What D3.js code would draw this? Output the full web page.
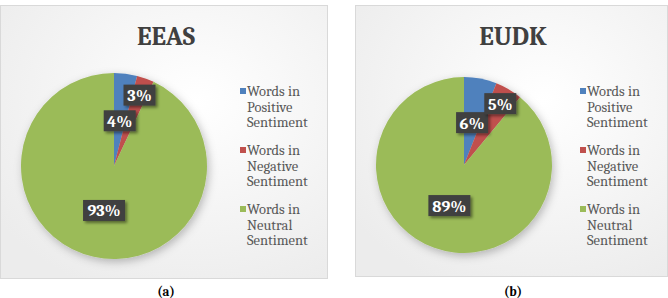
<!DOCTYPE html>
<html>
<head>
<meta charset="utf-8">
<script src="https://cdn.jsdelivr.net/npm/d3@7"></script>
<style>
  body { margin: 0; background: #fff; }
  svg { display: block; }
</style>
</head>
<body>
<script>
var width = 668, height = 298;

// data
var categories = ["Words in Positive Sentiment", "Words in Negative Sentiment", "Words in Neutral Sentiment"];
var legendLines = [["Words in", "Positive", "Sentiment"], ["Words in", "Negative", "Sentiment"], ["Words in", "Neutral", "Sentiment"]];
var eeasValues = [4, 3, 93];
var eudkValues = [6, 5, 89];
var chartTitles = ["EEAS", "EUDK"];
var captions = ["(a)", "(b)"];
var colors = ["#4F81BD", "#C0504D", "#9BBB59"];

var panels = [
  {title: chartTitles[0], caption: captions[0], values: eeasValues, box: [0, 5, 327, 278], cx: 114, cy: 166, r: 93, legendX: 240, titleX: 166},
  {title: chartTitles[1], caption: captions[1], values: eudkValues, box: [355, 5, 667, 276], cx: 464, cy: 165, r: 88, legendX: 580, titleX: 513}
];

var svg = d3.select("body").append("svg").attr("width", width).attr("height", height);
var defs = svg.append("defs");

var grad = defs.append("radialGradient").attr("id", "bg").attr("cx", "60%").attr("cy", "35%").attr("r", "75%");
grad.append("stop").attr("offset", "0%").attr("stop-color", "#ffffff");
grad.append("stop").attr("offset", "100%").attr("stop-color", "#ececec");

var shadow = defs.append("filter").attr("id", "sh").attr("x", "-30%").attr("y", "-30%").attr("width", "160%").attr("height", "160%");
shadow.append("feDropShadow").attr("dx", 2).attr("dy", 2).attr("stdDeviation", 1.5).attr("flood-color", "#000").attr("flood-opacity", 0.45);

var pieShadow = defs.append("filter").attr("id", "psh").attr("x", "-20%").attr("y", "-20%").attr("width", "140%").attr("height", "140%");
pieShadow.append("feDropShadow").attr("dx", 2).attr("dy", 3).attr("stdDeviation", 4).attr("flood-color", "#000").attr("flood-opacity", 0.25);

var pie = d3.pie().sort(null).value(function(d){ return d; });
var serif = "Cambria, 'DejaVu Serif', serif";

panels.forEach(function(p){
  var g = svg.append("g");
  var b = p.box;
  g.append("rect").attr("x", b[0] + 0.5).attr("y", b[1] + 0.5)
    .attr("width", b[2] - b[0]).attr("height", b[3] - b[1])
    .attr("fill", "url(#bg)").attr("stroke", "#d9d9d9");

  g.append("text").attr("x", p.titleX).attr("y", 45).attr("text-anchor", "middle")
    .attr("font-family", serif).attr("font-weight", "bold").attr("font-size", 26)
    .attr("fill", "#404040").text(p.title);

  var arc = d3.arc().innerRadius(0).outerRadius(p.r);
  var arcs = pie(p.values);
  var pg = g.append("g").attr("transform", "translate(" + p.cx + "," + p.cy + ")");
  pg.append("g").attr("filter", "url(#psh)").selectAll("path").data(arcs).enter().append("path")
    .attr("d", arc).attr("fill", function(d, i){ return colors[i]; });

  // excel "best fit": small second slice pushed outward
  var lab = pg.selectAll(".lab").data(arcs).enter().append("g").attr("class", "lab")
    .attr("transform", function(d, i){
      var k = i == 1 ? 0.81 : 0.49;
      var a = (d.startAngle + d.endAngle) / 2;
      return "translate(" + (Math.sin(a) * p.r * k) + "," + (-Math.cos(a) * p.r * k) + ")";
    });
  lab.append("rect")
    .attr("x", function(d){ return d.data >= 10 ? -21 : -16; })
    .attr("width", function(d){ return d.data >= 10 ? 42 : 32; })
    .attr("y", -10.5).attr("height", 21)
    .attr("fill", "#404040").attr("filter", "url(#sh)");
  lab.append("text").attr("text-anchor", "middle").attr("dy", 6)
    .attr("font-family", serif).attr("font-weight", "bold").attr("font-size", 16.5)
    .attr("fill", "#fff").text(function(d){ return d.data + "%"; });

  var lg = g.append("g").attr("transform", "translate(" + p.legendX + ",0)");
  var item = lg.selectAll(".item").data(categories).enter().append("g")
    .attr("transform", function(d, i){ return "translate(0," + (96 + i * 59) + ")"; });
  item.append("rect").attr("x", 0).attr("y", -8).attr("width", 6).attr("height", 6)
    .attr("fill", function(d, i){ return colors[i]; });
  item.append("text").attr("font-family", serif).attr("font-size", 14.5).attr("fill", "#595959")
    .selectAll("tspan").data(function(d, i){ return legendLines[i]; }).enter().append("tspan")
    .attr("x", 7).attr("dy", function(d, j){ return j ? 15.5 : 0; }).text(function(d){ return d; });

  svg.append("text").attr("x", p.titleX).attr("y", 296).attr("text-anchor", "middle")
    .attr("font-family", serif).attr("font-weight", "bold").attr("font-size", 13)
    .attr("fill", "#000").text(p.caption);
});
</script>
</body>
</html>
